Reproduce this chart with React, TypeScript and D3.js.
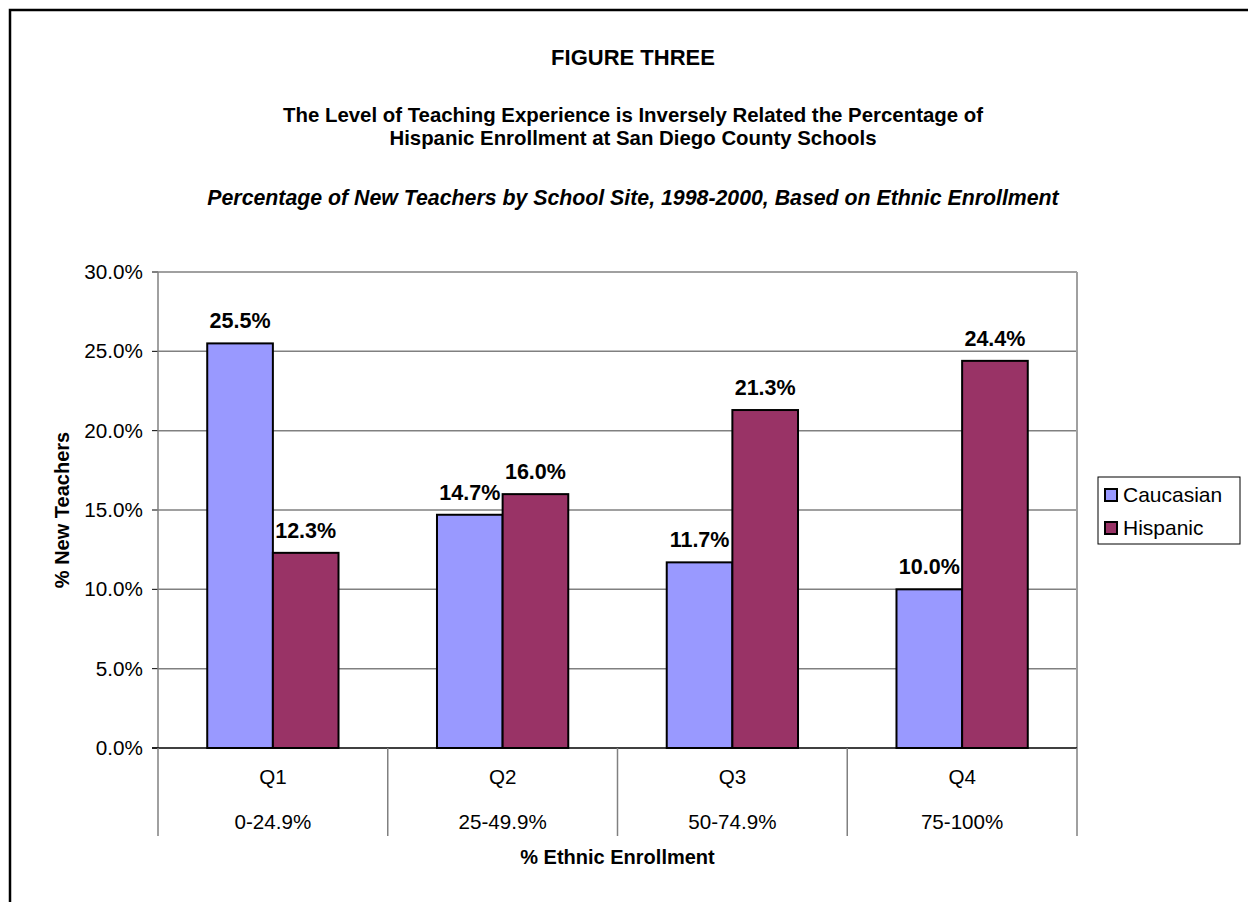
import React from "react";
import * as d3 from "d3";

const categories = ["Q1", "Q2", "Q3", "Q4"];
const ranges = ["0-24.9%", "25-49.9%", "50-74.9%", "75-100%"];
const seriesNames = ["Caucasian", "Hispanic"];
const caucasian = [25.5, 14.7, 11.7, 10.0];
const hispanic = [12.3, 16.0, 21.3, 24.4];
const yTicks = [0, 5, 10, 15, 20, 25, 30];
const colors = ["#9999FF", "#993366"];

const W = 1248;
const H = 902;
const plot = { left: 158, top: 272, right: 1077, bottom: 748 };
const FONT = "Arial, 'Liberation Sans', Helvetica, sans-serif";

export default function App() {
  const x = d3.scaleBand<string>().domain(categories).range([plot.left, plot.right]).paddingInner(0).paddingOuter(0);
  const y = d3.scaleLinear().domain([0, 30]).range([plot.bottom, plot.top]);
  const series = [caucasian, hispanic];
  const bw = x.bandwidth();
  const barW = bw / 3.5;
  const gap = barW * 0.75;
  const cx = 633;

  return (
    <svg width={W} height={H} style={{ position: "absolute", left: 0, top: 0 }} fontFamily={FONT}>
      <rect x={0} y={0} width={W} height={H} fill="#fff" />
      <rect x={10} y={10} width={W + 20} height={H + 20} fill="none" stroke="#000" strokeWidth={2.5} />
      <text x={cx} y={65} textAnchor="middle" fontWeight="bold" fontSize={22}>FIGURE THREE</text>
      <text x={cx} y={122} textAnchor="middle" fontWeight="bold" fontSize={20.4}>The Level of Teaching Experience is Inversely Related the Percentage of</text>
      <text x={cx} y={145} textAnchor="middle" fontWeight="bold" fontSize={20.4}>Hispanic Enrollment at San Diego County Schools</text>
      <text x={cx} y={205} textAnchor="middle" fontWeight="bold" fontStyle="italic" fontSize={21.3}>Percentage of New Teachers by School Site, 1998-2000, Based on Ethnic Enrollment</text>

      {yTicks.map((t) => (
        <g key={t}>
          {t > 0 && <line x1={plot.left} x2={plot.right} y1={y(t)} y2={y(t)} stroke="#808080" strokeWidth={1.5} />}
          <line x1={plot.left - 6} x2={plot.left} y1={y(t)} y2={y(t)} stroke="#000" strokeWidth={1} />
          <text x={plot.left - 15} y={y(t) + 7} textAnchor="end" fontSize={20.7}>{t.toFixed(1) + "%"}</text>
        </g>
      ))}
      <line x1={plot.right} x2={plot.right} y1={plot.top} y2={plot.bottom} stroke="#a0a0a0" strokeWidth={2} />
      <line x1={plot.left} x2={plot.left} y1={plot.top} y2={plot.bottom} stroke="#808080" strokeWidth={1.5} />

      {categories.map((c, i) => {
        const x0 = (x(c) as number) + gap;
        return (
          <g key={c}>
            {series.map((s, k) => {
              const bx = x0 + k * barW;
              return (
                <g key={k}>
                  <rect x={bx} y={y(s[i])} width={barW} height={plot.bottom - y(s[i])} fill={colors[k]} stroke="#000" strokeWidth={2} />
                  <text x={bx + barW / 2} y={y(s[i]) - 15} textAnchor="middle" fontWeight="bold" fontSize={21.5}>{s[i].toFixed(1) + "%"}</text>
                </g>
              );
            })}
          </g>
        );
      })}

      <line x1={plot.left - 6} x2={plot.right} y1={plot.bottom} y2={plot.bottom} stroke="#000" strokeWidth={1.5} />
      {[...categories.map((c) => x(c) as number), plot.right].map((vx, i) => (
        <line key={i} x1={vx} x2={vx} y1={plot.bottom} y2={836} stroke="#808080" strokeWidth={1.5} />
      ))}
      {categories.map((c, i) => (
        <g key={c}>
          <text x={(x(c) as number) + bw / 2} y={784} textAnchor="middle" fontSize={20.6}>{c}</text>
          <text x={(x(c) as number) + bw / 2} y={829} textAnchor="middle" fontSize={20.6}>{ranges[i]}</text>
        </g>
      ))}
      <text x={(plot.left + plot.right) / 2} y={864} textAnchor="middle" fontWeight="bold" fontSize={20}>% Ethnic Enrollment</text>
      <text transform={`translate(69,${(plot.top + plot.bottom) / 2}) rotate(-90)`} textAnchor="middle" fontWeight="bold" fontSize={20}>% New Teachers</text>

      <rect x={1098} y={477} width={142} height={67} fill="#fff" stroke="#000" strokeWidth={1} />
      {seriesNames.map((n, k) => (
        <g key={n}>
          <rect x={1105} y={489 + k * 33} width={12} height={12} fill={colors[k]} stroke="#000" strokeWidth={2} />
          <text x={1123} y={502 + k * 33} fontSize={21}>{n}</text>
        </g>
      ))}
    </svg>
  );
}
